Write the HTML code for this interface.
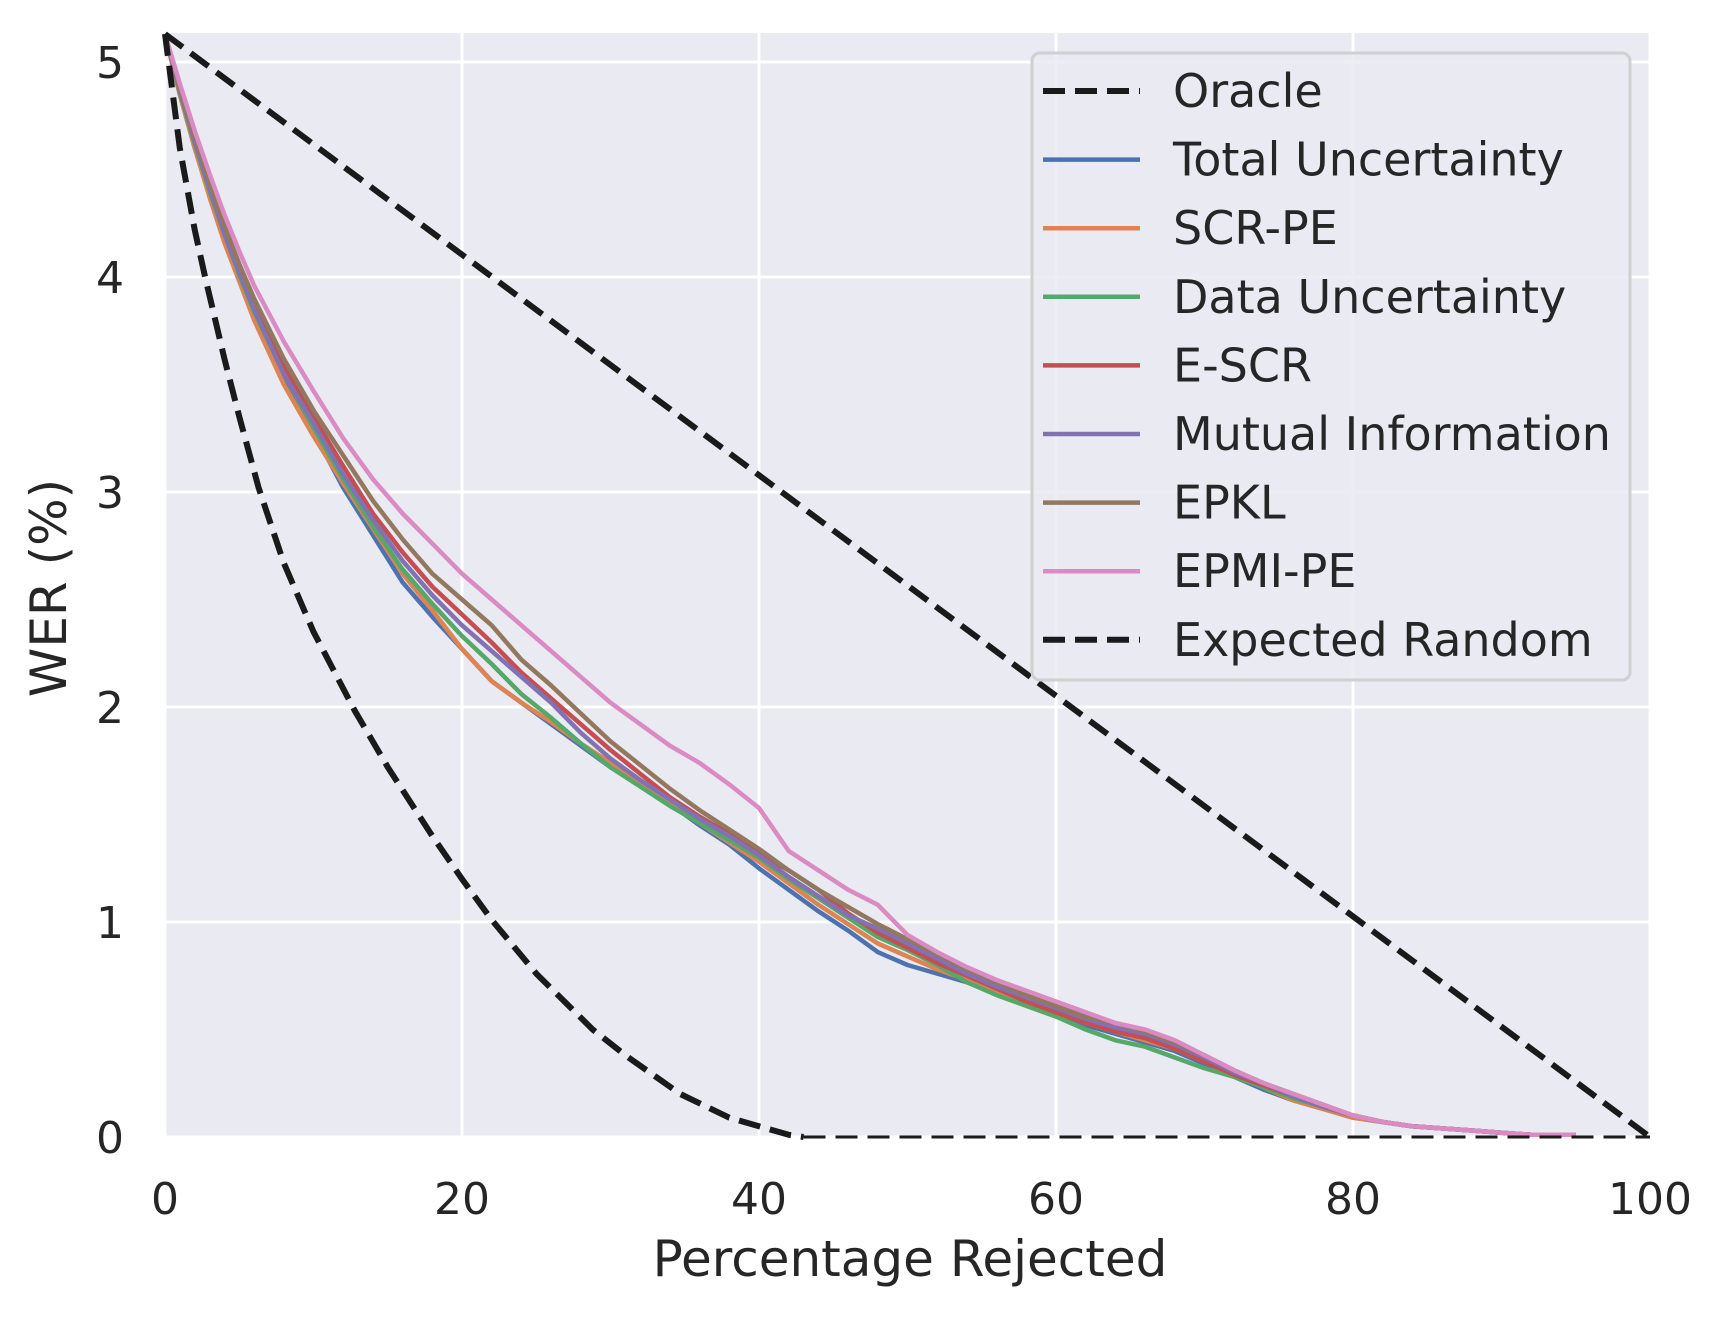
<!DOCTYPE html>
<html><head><meta charset="utf-8"><style>
body{margin:0;background:#fff;}
svg text{font-family:"DejaVu Sans","Liberation Sans",sans-serif;fill:#262626;}
</style></head><body>
<svg id="chart" width="1725" height="1318" viewBox="0 0 1725 1318" xmlns="http://www.w3.org/2000/svg">
<rect x="165" y="33" width="1485" height="1104" fill="#eaeaf2"/>
<g id="grid"></g>
<g id="series"></g>
<g id="ticks"></g>
<text x="910" y="1276" font-size="50" text-anchor="middle">Percentage Rejected</text>
<text transform="translate(66,588) rotate(-90)" font-size="50" text-anchor="middle">WER (%)</text>
<g id="legend"></g>
</svg>
<script>
const xTicks=[0,20,40,60,80,100];
const yTicks=[0,1,2,3,4,5];
const xs=[0,1,2,3,4,5,6,8,10,12,14,16,18,20,22,24,26,28,30,32,34,36,38,40,42,44,46,48,50,52,54,56,58,60,62,64,66,68,70,72,74,76,78,80,82,84,86,88,90,92,95];
const totalUnc=[5.13,4.85,4.6,4.38,4.18,4.0,3.82,3.52,3.28,3.02,2.8,2.58,2.42,2.27,2.12,2.02,1.92,1.82,1.72,1.64,1.55,1.45,1.36,1.25,1.15,1.05,0.96,0.86,0.8,0.76,0.72,0.67,0.62,0.57,0.52,0.48,0.44,0.4,0.34,0.28,0.22,0.17,0.13,0.09,0.07,0.05,0.04,0.03,0.02,0.01,0.01];
const scrPe=[5.13,4.85,4.6,4.37,4.16,3.98,3.8,3.5,3.26,3.04,2.83,2.62,2.45,2.27,2.12,2.02,1.93,1.83,1.74,1.65,1.56,1.46,1.37,1.28,1.18,1.08,0.99,0.9,0.84,0.78,0.73,0.68,0.63,0.58,0.53,0.49,0.45,0.41,0.35,0.29,0.23,0.17,0.13,0.09,0.07,0.05,0.04,0.03,0.02,0.01,0.01];
const dataUnc=[5.13,4.86,4.62,4.4,4.2,4.01,3.84,3.55,3.3,3.06,2.84,2.64,2.48,2.33,2.2,2.06,1.95,1.83,1.72,1.63,1.54,1.46,1.38,1.3,1.2,1.11,1.02,0.93,0.87,0.8,0.72,0.66,0.61,0.56,0.5,0.45,0.42,0.37,0.32,0.28,0.23,0.18,0.14,0.1,0.07,0.05,0.04,0.03,0.02,0.01,0.01];
const eScr=[5.13,4.87,4.63,4.42,4.22,4.03,3.86,3.58,3.35,3.12,2.9,2.72,2.56,2.43,2.3,2.16,2.04,1.92,1.8,1.69,1.58,1.49,1.41,1.32,1.24,1.15,1.04,0.95,0.88,0.81,0.75,0.69,0.63,0.58,0.53,0.49,0.46,0.41,0.35,0.29,0.24,0.19,0.14,0.1,0.07,0.05,0.04,0.03,0.02,0.01,0.01];
const mutualInfo=[5.13,4.87,4.63,4.41,4.2,4.02,3.85,3.55,3.32,3.08,2.87,2.68,2.52,2.38,2.26,2.14,2.02,1.88,1.76,1.66,1.57,1.48,1.4,1.31,1.21,1.12,1.03,0.97,0.9,0.83,0.76,0.7,0.65,0.6,0.55,0.51,0.48,0.43,0.37,0.3,0.25,0.19,0.14,0.1,0.07,0.05,0.04,0.03,0.02,0.01,0.01];
const epkl=[5.13,4.88,4.65,4.44,4.24,4.06,3.9,3.62,3.38,3.17,2.96,2.78,2.62,2.5,2.38,2.22,2.1,1.97,1.84,1.73,1.62,1.52,1.43,1.34,1.24,1.15,1.07,0.99,0.92,0.85,0.78,0.72,0.66,0.61,0.56,0.53,0.49,0.44,0.38,0.31,0.25,0.2,0.15,0.1,0.07,0.05,0.04,0.03,0.02,0.01,0.01];
const epmiPe=[5.13,4.9,4.68,4.48,4.29,4.12,3.96,3.7,3.47,3.25,3.06,2.9,2.76,2.62,2.5,2.38,2.26,2.14,2.02,1.92,1.82,1.74,1.64,1.53,1.33,1.24,1.15,1.08,0.94,0.86,0.79,0.73,0.68,0.63,0.58,0.53,0.5,0.45,0.38,0.31,0.25,0.2,0.15,0.1,0.07,0.05,0.04,0.03,0.02,0.01,0.01];
const oracleX=[0,1,2,2.7,4,5,6.3,8,10,12.8,15,18,20,22,25,28.8,31,34.7,38,40,42,43,100];
const oracleY=[5.13,4.6,4.22,4.0,3.62,3.35,3.02,2.67,2.35,1.98,1.72,1.4,1.2,1.01,0.76,0.5,0.38,0.2,0.09,0.05,0.01,0,0];
const randomX=[0,100];
const randomY=[5.13,0];
const names=["Oracle","Total Uncertainty","SCR-PE","Data Uncertainty","E-SCR","Mutual Information","EPKL","EPMI-PE","Expected Random"];

const X0=165,X1=1650,Y0=1137,YU=215;
const sx=v=>X0+(X1-X0)*v/100;
const sy=v=>Y0-YU*v;
const NS="http://www.w3.org/2000/svg";
function mk(t,a,p){const e=document.createElementNS(NS,t);for(const k in a)e.setAttribute(k,a[k]);p.appendChild(e);return e;}
const grid=document.getElementById('grid'),ticks=document.getElementById('ticks'),ser=document.getElementById('series'),leg=document.getElementById('legend');
xTicks.forEach(t=>{
 const l=mk('line',{x1:sx(t),x2:sx(t),y1:33,y2:1137,stroke:'#fff','stroke-width':3},grid);
 
 
 const tx=mk('text',{x:sx(t),y:1214,'font-size':44,'text-anchor':'middle'},ticks);tx.textContent=t;
 
 
});
yTicks.forEach(t=>{
 const l=mk('line',{x1:165,x2:1650,y1:sy(t),y2:sy(t),stroke:'#fff','stroke-width':3},grid);
 
 
 const tx=mk('text',{x:124,y:sy(t)+16,'font-size':44,'text-anchor':'end'},ticks);tx.textContent=t;
 
 
});
function pts(xa,ya){return xa.map((x,i)=>sx(x).toFixed(1)+','+sy(ya[i]).toFixed(1)).join(' ');}
const series=[[xs,totalUnc,'#4c72b0'],[xs,scrPe,'#dd8452'],[xs,dataUnc,'#55a868'],[xs,eScr,'#c44e52'],[xs,mutualInfo,'#8172b3'],[xs,epkl,'#937860'],[xs,epmiPe,'#da8bc3']];
const sNames=['total-uncertainty-line','scr-pe-line','data-uncertainty-line','e-scr-line','mutual-information-line','epkl-line','epmi-pe-line'];
series.forEach((s,i)=>{
 const p=mk('polyline',{points:pts(s[0],s[1]),fill:'none',stroke:s[2],'stroke-width':4.5,'stroke-linejoin':'round'},ser);
 
 
});
const o1=mk('polyline',{points:pts(oracleX.slice(0,22),oracleY.slice(0,22)),fill:'none',stroke:'#1a1a1a','stroke-width':6,'stroke-dasharray':'22,10','stroke-linejoin':'round'},ser);


const o2=mk('polyline',{points:pts(oracleX.slice(21),oracleY.slice(21)),fill:'none',stroke:'#1a1a1a','stroke-width':3,'stroke-dasharray':'22,10'},ser);


const r=mk('polyline',{points:pts(randomX,randomY),fill:'none',stroke:'#1a1a1a','stroke-width':6,'stroke-dasharray':'22,10'},ser);


const box=mk('rect',{x:1032,y:53,width:598,height:627,rx:8,fill:'#eaeaf2','fill-opacity':0.85,stroke:'#d0d0d0','stroke-width':3},leg);


const lc=['#1a1a1a','#4c72b0','#dd8452','#55a868','#c44e52','#8172b3','#937860','#da8bc3','#1a1a1a'];
names.forEach((n,i)=>{
 const y=91+i*68.6;
 const dash=(i==0||i==8);
 const l=mk('line',{x1:1043,x2:1140,y1:y,y2:y,stroke:lc[i],'stroke-width':dash?6:4.5},leg);
 if(dash)l.setAttribute('stroke-dasharray','22,10');
 
 
 const t=mk('text',{x:1173,y:y+16,'font-size':46},leg);t.textContent=n;
 
 
});
</script>
</body></html>
